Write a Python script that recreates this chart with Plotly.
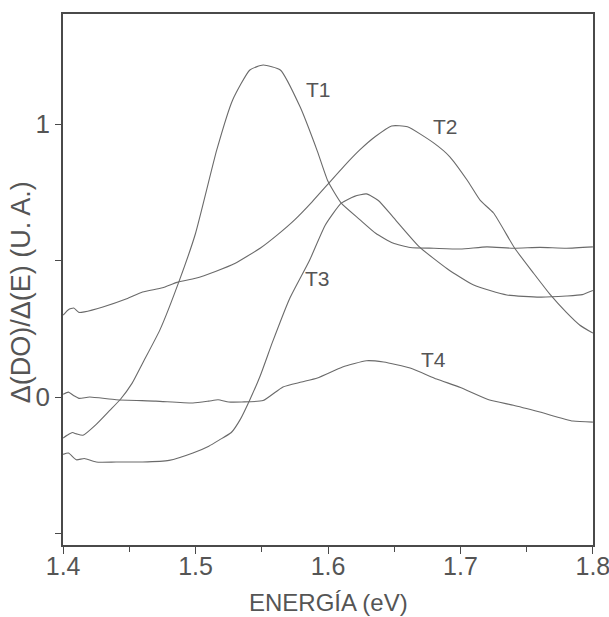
import plotly.graph_objects as go

# ---- data ----
T1_x = [1.400,1.403,1.407,1.410,1.415,1.425,1.435,1.443,1.452,1.460,1.473,1.488,1.500,1.516,1.528,1.541,1.551,1.564,1.579,1.592,1.600,1.610,1.624,1.636,1.649,1.662,1.680,1.700,1.720,1.740,1.760,1.780,1.800]
T1_y = [-0.15,-0.14,-0.13,-0.135,-0.14,-0.10,-0.05,-0.01,0.05,0.124,0.245,0.43,0.60,0.905,1.088,1.198,1.216,1.198,1.062,0.90,0.79,0.71,0.65,0.60,0.564,0.548,0.545,0.542,0.55,0.545,0.548,0.545,0.55]

T2_x = [1.400,1.404,1.408,1.412,1.416,1.430,1.448,1.460,1.475,1.486,1.500,1.515,1.530,1.549,1.562,1.575,1.588,1.600,1.612,1.624,1.636,1.648,1.660,1.680,1.692,1.705,1.715,1.725,1.741,1.755,1.768,1.780,1.790,1.800]
T2_y = [0.30,0.32,0.326,0.31,0.312,0.33,0.36,0.385,0.40,0.42,0.435,0.46,0.49,0.546,0.595,0.65,0.715,0.78,0.845,0.905,0.955,0.993,0.99,0.93,0.88,0.795,0.72,0.674,0.545,0.455,0.374,0.31,0.264,0.234]

T3_x = [1.400,1.404,1.410,1.416,1.425,1.440,1.460,1.480,1.498,1.510,1.518,1.527,1.534,1.541,1.549,1.558,1.571,1.586,1.598,1.610,1.620,1.629,1.638,1.649,1.669,1.690,1.710,1.735,1.760,1.780,1.792,1.800]
T3_y = [-0.21,-0.205,-0.23,-0.225,-0.238,-0.238,-0.238,-0.232,-0.205,-0.18,-0.157,-0.13,-0.08,-0.01,0.08,0.20,0.36,0.50,0.63,0.71,0.735,0.744,0.72,0.66,0.55,0.47,0.41,0.374,0.366,0.37,0.375,0.39]

T4_x = [1.400,1.404,1.408,1.412,1.420,1.440,1.470,1.498,1.510,1.517,1.525,1.535,1.551,1.566,1.580,1.592,1.611,1.629,1.642,1.662,1.682,1.700,1.722,1.740,1.760,1.785,1.800]
T4_y = [0.01,0.018,0.005,-0.005,0.0,-0.01,-0.015,-0.022,-0.015,-0.01,-0.018,-0.018,-0.013,0.037,0.055,0.07,0.11,0.133,0.128,0.106,0.066,0.035,-0.011,-0.03,-0.055,-0.088,-0.092]

labels = ["T1", "T2", "T3", "T4"]
label_x = [1.593, 1.689, 1.592, 1.680]
label_y = [1.125, 0.99, 0.436, 0.138]

x_tickvals = [1.4, 1.5, 1.6, 1.7, 1.8]
x_ticktext = ["1.4", "1.5", "1.6", "1.7", "1.8"]
y_tickvals = [-0.5, 0, 0.5, 1]
y_ticktext = ["", "0", "", "1"]

LINE = "#6a6a6a"
TXT = "#555555"
AX = "#4a4a4a"
FONT = "Liberation Sans, Arial, sans-serif"

fig = go.Figure()
for xs, ys in [(T1_x, T1_y), (T2_x, T2_y), (T3_x, T3_y), (T4_x, T4_y)]:
    fig.add_trace(go.Scatter(x=xs, y=ys, mode="lines",
                             line=dict(color=LINE, width=1.1, shape="spline", smoothing=0.5),
                             showlegend=False, hoverinfo="skip"))

for t, lx, ly in zip(labels, label_x, label_y):
    fig.add_annotation(x=lx, y=ly, text=t, showarrow=False,
                       font=dict(family=FONT, size=21, color=TXT))

fig.add_annotation(xref="paper", yref="paper", x=0.5, y=0, yanchor="middle",
                   yshift=-57, text="ENERGÍA (eV)", showarrow=False,
                   font=dict(family=FONT, size=24, color=TXT))
fig.add_annotation(xref="paper", yref="paper", x=0, y=0.476, xanchor="center",
                   xshift=-42, text="Δ(DO)/Δ(E) (U. A.)", textangle=-90, showarrow=False,
                   font=dict(family=FONT, size=27, color=TXT))

fig.update_xaxes(range=[1.3999, 1.8001], tickvals=x_tickvals, ticktext=x_ticktext,
                 ticks="outside", ticklen=7, tickwidth=1.2, tickcolor=AX,
                 ticklabelstandoff=-9, ticklabeloverflow="allow", automargin=False,
                 minor=dict(tickvals=[1.45, 1.55, 1.65, 1.75], ticks="outside", ticklen=5, tickcolor=AX),
                 showline=True, linecolor=AX, linewidth=1.5, mirror=True,
                 showgrid=False, zeroline=False,
                 tickfont=dict(family=FONT, size=25, color=TXT))
fig.update_yaxes(range=[-0.542, 1.403], tickvals=y_tickvals, ticktext=y_ticktext,
                 ticks="outside", ticklen=6, tickwidth=1.2, tickcolor=AX, automargin=False,
                 showline=True, linecolor=AX, linewidth=1.5, mirror=True,
                 showgrid=False, zeroline=False,
                 tickfont=dict(family=FONT, size=26, color=TXT))

fig.update_layout(width=609, height=617,
                  margin=dict(l=63, r=16, t=14, b=72),
                  paper_bgcolor="white", plot_bgcolor="white")

fig.write_html("out.html")
